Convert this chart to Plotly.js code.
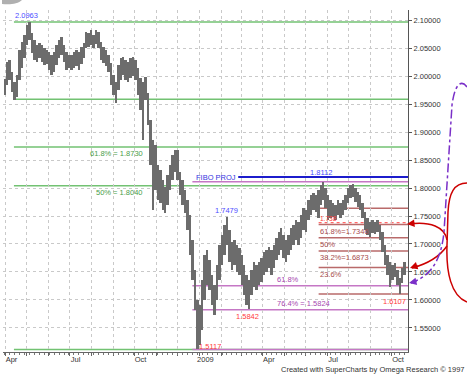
<!DOCTYPE html>
<html><head><meta charset="utf-8">
<script src="https://cdn.plot.ly/plotly-3.0.1.min.js"></script>
<style>html,body{margin:0;padding:0;background:#fff}#chart{width:467px;height:378px}</style>
</head><body><div id="chart"></div>
<script>
// ---- data (half-week bars, Mon / Thu) ----
const firstBarDate = '2008-03-31';
const barStepDays = 3.5;
const highs = [1.995,2.025,2.029,2.007,1.989,2.002,2.046,2.061,2.073,2.091,
2.0963,2.077,2.064,2.055,2.059,2.055,2.050,2.046,2.043,2.038,
2.043,2.055,2.064,2.070,2.055,2.043,2.038,2.038,2.043,2.046,
2.043,2.052,2.059,2.079,2.077,2.082,2.073,2.082,2.079,2.061,
2.052,2.046,2.038,2.023,2.002,1.989,2.020,2.032,2.034,2.029,
2.025,2.032,2.034,2.029,2.014,1.996,1.989,1.998,1.970,1.921,
1.886,1.877,1.841,1.832,1.814,1.802,1.823,1.841,1.859,1.868,
1.868,1.829,1.814,1.796,1.779,1.752,1.707,1.654,1.600,1.591,
1.636,1.680,1.689,1.671,1.645,1.627,1.663,1.698,1.716,1.734,
1.748,1.725,1.704,1.707,1.698,1.693,1.680,1.663,1.645,1.636,
1.654,1.668,1.663,1.668,1.675,1.686,1.689,1.695,1.689,1.698,
1.711,1.721,1.729,1.716,1.707,1.716,1.729,1.734,1.743,1.739,
1.752,1.764,1.761,1.779,1.788,1.791,1.788,1.796,1.805,1.8112,
1.800,1.788,1.779,1.773,1.770,1.779,1.773,1.779,1.788,1.800,
1.805,1.808,1.800,1.793,1.788,1.773,1.757,1.746,1.739,1.743,
1.739,1.743,1.734,1.721,1.698,1.680,1.668,1.663,1.666,1.654,
1.639,1.657,1.668];
const lows = [1.966,1.984,1.993,1.971,1.957,1.963,1.993,2.014,2.032,2.055,
2.064,2.041,2.029,2.025,2.032,2.025,2.020,2.021,2.011,2.002,
2.007,2.020,2.032,2.038,2.025,2.011,2.014,2.011,2.014,2.018,
2.011,2.021,2.032,2.050,2.052,2.055,2.050,2.057,2.050,2.029,
2.023,2.018,2.007,1.984,1.966,1.952,1.975,1.993,2.002,1.993,
1.989,1.996,2.000,1.993,1.966,1.939,1.886,1.957,1.9125,1.841,
1.761,1.796,1.779,1.773,1.761,1.755,1.770,1.796,1.814,1.829,
1.814,1.788,1.770,1.755,1.725,1.680,1.636,1.582,1.5117,1.520,
1.546,1.600,1.627,1.618,1.591,1.573,1.600,1.636,1.663,1.680,
1.698,1.668,1.654,1.663,1.650,1.645,1.627,1.609,1.591,1.5842,
1.609,1.623,1.618,1.627,1.632,1.645,1.650,1.657,1.645,1.657,
1.671,1.680,1.689,1.675,1.668,1.680,1.689,1.698,1.707,1.698,
1.711,1.725,1.721,1.743,1.752,1.761,1.757,1.746,1.770,1.779,
1.764,1.743,1.746,1.748,1.743,1.752,1.746,1.752,1.761,1.773,
1.782,1.784,1.775,1.766,1.761,1.746,1.725,1.716,1.713,1.720,
1.718,1.721,1.707,1.686,1.663,1.645,1.623,1.636,1.641,1.627,
1.6107,1.630,1.645];

const tickDates = ['2008-04-01','2008-07-01','2008-10-01','2009-01-01','2009-04-01','2009-07-01','2009-10-01'];
const tickLabels = ['Apr','Jul','Oct','2009','Apr','Jul','Oct'];

// Fibonacci levels
const greenLevels = [2.0963, 1.9583, 1.8730, 1.8040, 1.5117];
const greenLabels = ['', '', '61.8% = 1.8730', '50% = 1.8040', ''];
const magentaLevels = [1.8112, 1.6256, 1.5824, 1.5117];
const magentaLabels = ['', '61.8%', '76.4% = 1.5824', ''];
const brownLevels = [1.7639, 1.7346, 1.7110, 1.6873, 1.6580, 1.6107];
const brownLabels = ['', '61.8%=1.7346', '50%', '38.2%=1.6873', '23.6%', ''];
const fiboProjLevel = 1.8196;
const targetLevel = 1.738;
const targetLabel = '1.738';
// marked extremes: [date, value]
const highMarks = [['2008-04-13', 2.0963], ['2009-02-09', 1.7479], ['2009-06-23', 1.8112]];
const lowMarks = [['2009-03-10', 1.5842], ['2009-10-05', 1.6107]];
const lowMark2 = ['2008-12-30', 1.5117];

// ---- build ----
const DAY = 86400000;
const t0 = Date.parse(firstBarDate + 'T00:00:00Z');
function fmt(ms){return new Date(ms).toISOString().slice(0,19).replace('T',' ');}
const dates = highs.map((_, i) => fmt(t0 + i * barStepDays * DAY));
const xRange = ['2008-03-28 12:00', '2009-10-23 17:00'];
const yRange = [1.5071, 2.1179];

const FONT = 'Arial, "Liberation Sans", sans-serif';

const traces = [
  {type:'bar', x:dates, base:lows, y:highs.map((h,i)=>h-lows[i]),
   width:barStepDays*DAY, marker:{color:'#6c6c6c', line:{width:0}}, hoverinfo:'skip'},
  {type:'scatter', x:[dates[0]], y:[null], xaxis:'x2', yaxis:'y', mode:'markers', hoverinfo:'skip'}
];

// pixel -> paper helpers for free-hand decorations
const L=3, R=59, T=10, B=26, W=467, H=378, PW=W-L-R, PH=H-T-B;
function toPaperPath(s){
  const tok = s.trim().split(/\s+/);
  const out = []; let i=0;
  while(i<tok.length){
    if(/^[A-Za-z]$/.test(tok[i])){ out.push(tok[i]); i++; continue; }
    const x=(parseFloat(tok[i])-L)/PW, y=(H-B-parseFloat(tok[i+1]))/PH;
    out.push(x.toFixed(5)+','+y.toFixed(5)); i+=2;
  }
  return out.join(' ');
}
const px = x => (x-L)/PW, py = y => (H-B-y)/PH;

const shapes = [];
function hline(y, x0, color, width, dash){
  shapes.push({type:'line', xref:'x', yref:'y', x0:x0, x1:xRange[1], y0:y, y1:y,
    line:{color:color, width:width, dash:dash||'solid'}, layer:'below'});
}
greenLevels.forEach(v => hline(v, '2008-04-13', '#72c272', 1.5));
magentaLevels.forEach(v => hline(v, '2008-12-22', '#c577c5', 1.5));
brownLevels.forEach(v => hline(v, '2009-06-19', '#b96a6a', 1.5));
hline(fiboProjLevel, '2009-02-25', '#1c1ccc', 2);
hline(targetLevel, '2009-06-19', '#ff4040', 1, 'dot');

// hand-drawn marks on the right
shapes.push({type:'path', xref:'paper', yref:'paper', layer:'above',
  path: toPaperPath('M 467 183 C 454 183 449 193 448 212 L 447 245 C 446 272 451 296 467 302'),
  line:{color:'#cc0000', width:1.5}});
shapes.push({type:'path', xref:'paper', yref:'paper', layer:'above',
  path: toPaperPath('M 447 240 C 445 227 430 221 409 224'), line:{color:'#cc0000', width:1.5}});
shapes.push({type:'path', xref:'paper', yref:'paper', layer:'above',
  path: toPaperPath('M 447 246 C 440 256 427 264 412 268'), line:{color:'#cc0000', width:1.5}});
shapes.push({type:'path', xref:'paper', yref:'paper', layer:'above',
  path: toPaperPath('M 467 87 C 462 80 455 82 452 105 L 444 232 C 441 262 430 276 411 283'),
  line:{color:'#7a30c8', width:1.5, dash:'dashdot'}});
shapes.push({type:'path', xref:'paper', yref:'paper', layer:'above',
  path: toPaperPath('M 2 0 L 22 0 C 18 4 10 5 2 4 Z'), fillcolor:'#b0b0b0', line:{width:0}});

const ann = [];
function lab(text, x, y, color, xa, ya, ys, size){
  ann.push({text:text, x:x, y:y, xref:'x', yref:'y', showarrow:false, xanchor:xa, yanchor:ya,
    yshift:ys||0, font:{family:FONT, size:size||7.5, color:color}, borderpad:0});
}
greenLevels.forEach((v,i)=>{ if(greenLabels[i]) lab(greenLabels[i], '2008-10-15', v, '#4a9e4a', 'right', 'top', -1); });
magentaLevels.forEach((v,i)=>{ if(magentaLabels[i]) lab(magentaLabels[i], '2009-04-19', v, '#a848b0', 'left', 'bottom', 1); });
brownLevels.forEach((v,i)=>{ if(brownLabels[i]) lab(brownLabels[i], '2009-06-19', v, '#a84c4c', 'left', 'top', -1); });
lab('FIBO PROJ', '2009-02-23', fiboProjLevel, '#3434e0', 'right', 'middle', 0);
lab(targetLabel, '2009-06-19', targetLevel, '#ff3b3b', 'left', 'bottom', 0, 6.5);
lab(String(highMarks[0][1]), highMarks[0][0], highMarks[0][1], '#4d4dff', 'left', 'bottom', 1);
lab(String(highMarks[1][1]), highMarks[1][0], highMarks[1][1], '#4d4dff', 'center', 'bottom', 1);
lab(String(highMarks[2][1]), highMarks[2][0], highMarks[2][1], '#4d4dff', 'center', 'bottom', 4);
lowMarks.forEach(m => lab(m[1].toFixed(4), m[0], m[1], '#ff3b3b', 'center', 'top', -2));
lab(lowMark2[1].toFixed(4), lowMark2[0], lowMark2[1], '#ff3b3b', 'left', 'bottom', -3);

// arrowheads
function head(x, y, ax, ay, color){
  ann.push({text:'', xref:'paper', yref:'paper', x:px(x), y:py(y), ax:ax, ay:ay,
    showarrow:true, arrowhead:2, arrowsize:1, arrowwidth:1.5, arrowcolor:color, standoff:0});
}
head(407, 224, 9, -1, '#cc0000');
head(410, 268, 9, -3, '#cc0000');
head(409, 283, 9, -2, '#7a30c8');

ann.push({text:'Created with SuperCharts by Omega Research \u00a9 1997', xref:'paper', yref:'paper',
  x:px(466), y:py(369), xanchor:'right', yanchor:'middle', showarrow:false,
  font:{family:FONT, size:7.5, color:'#333'}, borderpad:0});

const grid = {gridcolor:'#c9c9c9', griddash:'dot', gridwidth:1};
const layout = {
  width:W, height:H, margin:{l:L, r:R, t:T, b:B, pad:0},
  paper_bgcolor:'#fff', plot_bgcolor:'#fff', showlegend:false, bargap:0,
  font:{family:FONT, size:7.5, color:'#333'},
  xaxis:Object.assign({type:'date', range:xRange, tickmode:'array', tickvals:tickDates, ticktext:tickLabels,
    ticks:'', showline:true, linecolor:'#666', linewidth:1,
    showgrid:true, zeroline:false, tickfont:{family:FONT, size:7.5, color:'#333'}, ticklabelshift:6,
    minor:Object.assign({dtick:'M1', tick0:'2008-04-01', showgrid:true, ticks:'outside', ticklen:3, tickcolor:'#666'}, grid)}, grid),
  xaxis2:{type:'date', overlaying:'x', anchor:'y', side:'bottom', range:xRange, tick0:'2008-03-31', dtick:7*DAY,
    ticks:'outside', ticklen:2, tickcolor:'#777', showticklabels:false, showgrid:false, showline:false, zeroline:false},
  yaxis:Object.assign({side:'right', range:yRange, tick0:1.5, dtick:0.05, tickformat:'.5f',
    ticks:'outside', ticklen:3, tickcolor:'#555', showline:true, linecolor:'#555', linewidth:1,
    showgrid:true, zeroline:false, tickfont:{family:FONT, size:7.5, color:'#333'}}, grid),
  shapes:shapes, annotations:ann
};
Plotly.newPlot('chart', traces, layout, {staticPlot:true, displayModeBar:false});
</script></body></html>
